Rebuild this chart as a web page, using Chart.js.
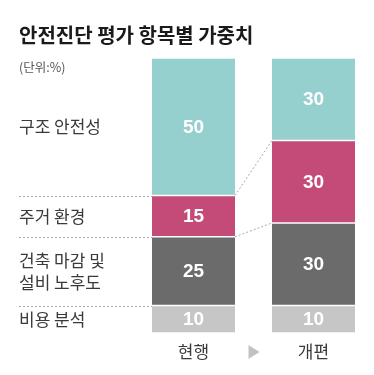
<!DOCTYPE html>
<html>
<head>
<meta charset="utf-8">
<script src="https://cdn.jsdelivr.net/npm/chart.js@4"></script>
<style>
  html, body { margin: 0; padding: 0; background: #fff; }
  #wrap { position: relative; width: 374px; height: 375px; }
</style>
</head>
<body>
<div id="wrap"><canvas id="weightChart"></canvas></div>
<script>
// data, bottom segment first
const periods = ['현행', '개편'];
const itemNames = ['비용 분석', '건축 마감 및\n설비 노후도', '주거 환경', '구조 안전성'];
const costValues = [10, 10];
const finishValues = [25, 30];
const livingValues = [15, 30];
const safetyValues = [50, 30];
const itemColors = ['#c6c6c6', '#6b6b6b', '#c44a78', '#95d0cf'];

const title = '안전진단 평가 항목별 가중치';
const unitText = '(단위:%)';
const korFont = '"Noto Sans CJK KR", "Noto Sans", sans-serif';

const seriesValues = [costValues, finishValues, livingValues, safetyValues];

const datasets = seriesValues.map((vals, i) => ({
  label: itemNames[i],
  data: vals,
  backgroundColor: itemColors[i],
  borderColor: '#ffffff',
  borderWidth: { top: 1, bottom: 1, left: 0, right: 0 },
  borderSkipped: false,
  barThickness: 83
}));

// draws title, left labels, value labels, dashed guides and bottom labels
const decorPlugin = {
  id: 'decor',
  afterDatasetsDraw(chart) {
    const ctx = chart.ctx;
    const x = chart.scales.x;
    const y = chart.scales.y;
    const half = 83 / 2;
    const bar1L = x.getPixelForValue(0) - half;
    const bar1R = x.getPixelForValue(0) + half;
    const bar2L = x.getPixelForValue(1) - half;

    ctx.save();
    // title
    ctx.fillStyle = '#1a1a1a';
    ctx.font = 'bold 20px ' + korFont;
    ctx.textBaseline = 'middle';
    ctx.textAlign = 'left';
    ctx.fillText(title, 19, 35);
    ctx.fillStyle = '#555';
    ctx.font = '12.5px ' + korFont;
    ctx.fillText(unitText, 19, 67);

    // cumulative boundaries
    const cum = [[0], [0]];
    seriesValues.forEach(vals => {
      cum[0].push(cum[0][cum[0].length - 1] + vals[0]);
      cum[1].push(cum[1][cum[1].length - 1] + vals[1]);
    });

    // dashed guides on the left
    ctx.strokeStyle = '#a8a8a8';
    ctx.lineWidth = 1;
    ctx.setLineDash([2, 2]);
    for (let k = 1; k < seriesValues.length; k++) {
      const py = Math.round(y.getPixelForValue(cum[0][k])) + 0.5;
      ctx.beginPath();
      ctx.moveTo(19, py);
      ctx.lineTo(bar1L, py);
      ctx.stroke();
    }
    // connectors between bars (residential and finish tops)
    [2, 3].forEach(k => {
      ctx.beginPath();
      ctx.moveTo(bar1R, y.getPixelForValue(cum[0][k]));
      ctx.lineTo(bar2L, y.getPixelForValue(cum[1][k]));
      ctx.stroke();
    });
    ctx.setLineDash([]);

    // left item labels
    ctx.fillStyle = '#3a3a3a';
    ctx.font = '17px ' + korFont;
    ctx.textAlign = 'left';
    itemNames.forEach((name, i) => {
      const mid = y.getPixelForValue((cum[0][i] + cum[0][i + 1]) / 2);
      const lines = name.split('\n');
      const lh = 22;
      lines.forEach((ln, j) => {
        ctx.fillText(ln, 19, mid + (j - (lines.length - 1) / 2) * lh);
      });
    });

    // values inside bars
    ctx.fillStyle = '#ffffff';
    ctx.font = 'bold 19px "Liberation Sans Narrow", "Liberation Sans", sans-serif';
    ctx.textAlign = 'center';
    chart.data.datasets.forEach((ds, i) => {
      chart.getDatasetMeta(i).data.forEach((bar, j) => {
        ctx.fillText(String(ds.data[j]), bar.x, (bar.y + bar.base) / 2 + 1);
      });
    });

    // period labels and arrow
    ctx.fillStyle = '#3a3a3a';
    ctx.font = '17px ' + korFont;
    periods.forEach((p, j) => {
      ctx.fillText(p, x.getPixelForValue(j), 352);
    });
    const ax = (bar1R + bar2L) / 2;
    ctx.fillStyle = '#c2c2c2';
    ctx.beginPath();
    ctx.moveTo(ax - 5, 345);
    ctx.lineTo(ax + 6, 352);
    ctx.lineTo(ax - 5, 359);
    ctx.closePath();
    ctx.fill();
    ctx.restore();
  }
};

new Chart(document.getElementById('weightChart'), {
  type: 'bar',
  data: { labels: periods, datasets: datasets },
  options: {
    responsive: true,
    maintainAspectRatio: false,
    animation: false,
    layout: { padding: { left: 133.5, right: 0.5, top: 58, bottom: 42 } },
    plugins: { legend: { display: false }, tooltip: { enabled: false } },
    scales: {
      x: { stacked: true, display: false },
      y: { stacked: true, display: false, min: 0, max: 100 }
    }
  },
  plugins: [decorPlugin]
});
</script>
</body>
</html>
